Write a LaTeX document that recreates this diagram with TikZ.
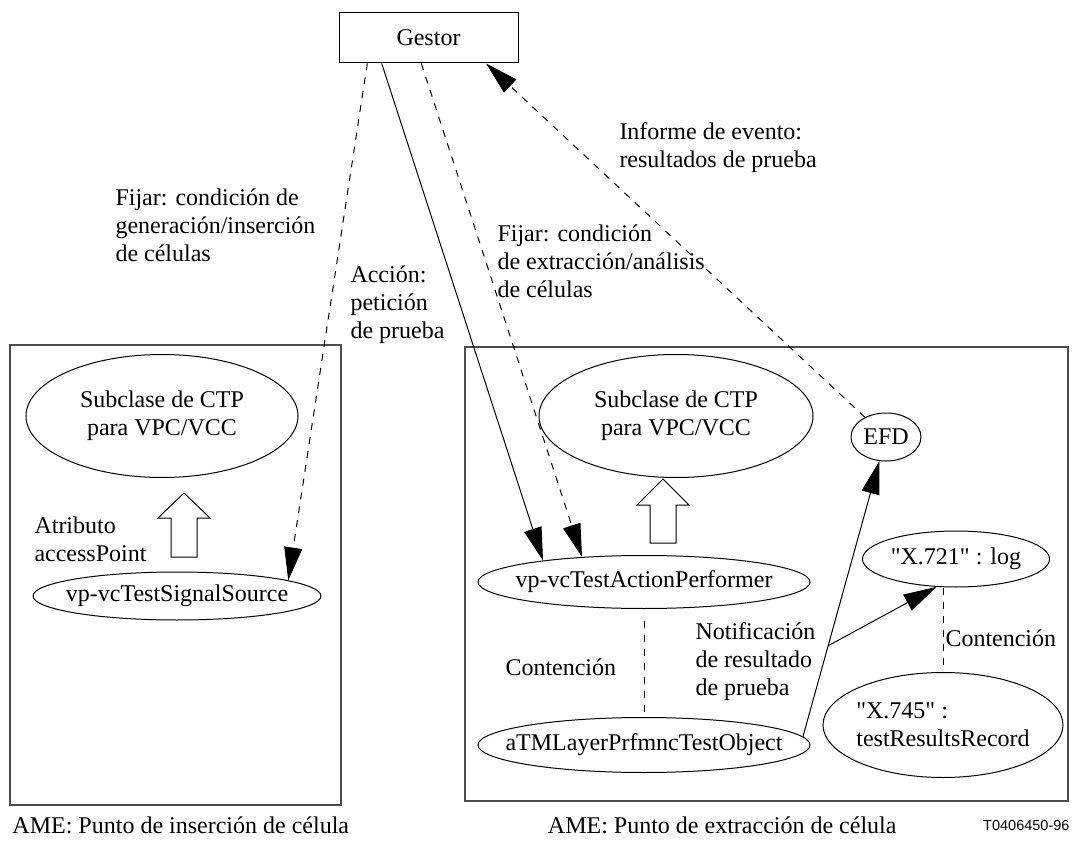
\documentclass[tikz,border=0pt]{standalone}
\usepackage{fontspec}
\setmainfont{Liberation Serif}
\setsansfont{Liberation Sans}
\usetikzlibrary{arrows.meta}
\usetikzlibrary{shapes.geometric}
\usetikzlibrary{calc}

\newcommand{\qt}{\XeTeXglyph\XeTeXcharglyph"22\relax}

\tikzset{
  ell/.style={draw, ellipse, inner sep=0pt},
  frame/.style={draw=black!70, line width=1.4pt},
  txt/.style={align=left, anchor=west, inner sep=0pt},
  dsh/.style={dash pattern=on 7pt off 7pt},
}

\begin{document}
\begin{tikzpicture}[x=1pt,y=-1pt,line width=1pt,font=\fontsize{24}{28}\selectfont,
    >={Triangle[length=33pt,width=18pt]}]
  \useasboundingbox (0,0) rectangle (1072,845);

  \node[draw, minimum width=179pt, minimum height=50pt] (gestor) at (428.5,38) {Gestor};

  % AME frames
  \draw[frame] (10,345) rectangle (341,805);
  \draw[frame] (465,347) rectangle (1068,801);

  % insertion point
  \node[ell, minimum width=272pt, minimum height=123pt,
    label={[align=center]center:{Subclase de CTP\\para VPC/VCC}}] (lsub) at (162,416) {};
  \node[ell, minimum width=288pt, minimum height=48pt,
    label={center:vp-vcTestSignalSource}] (src) at (177,596) {};
  \draw (184,493) -- ++(26,25) -- ++(-13,0) -- ++(0,39) -- ++(-26,0) -- ++(0,-39) -- ++(-13,0) -- cycle;

  % extraction point
  \node[ell, minimum width=274pt, minimum height=123pt,
    label={[align=center]center:{Subclase de CTP\\para VPC/VCC}}] (rsub) at (676,416) {};
  \node[ell, minimum width=332pt, minimum height=53pt,
    label={center:vp-vcTestActionPerformer}] (perf) at (644,582) {};
  \node[ell, minimum width=332pt, minimum height=55pt,
    label={center:aTMLayerPrfmncTestObject}] (atm) at (644,745) {};
  \node[ell, minimum width=70pt, minimum height=48pt,
    label={center:EFD}] (efd) at (886,437) {};
  \node[ell, minimum width=187pt, minimum height=56pt,
    label={center:\qt X.721\qt{} : log}] (log) at (956,559) {};
  \node[ell, minimum width=240pt, minimum height=105pt,
    label={[align=left]center:{\qt X.745\qt{} :\\testResultsRecord}}] (rec) at (943,725) {};
  \draw (663,479) -- ++(26,26) -- ++(-13,0) -- ++(0,38) -- ++(-26,0) -- ++(0,-38) -- ++(-13,0) -- cycle;

  % connectors
  \draw[->, dsh] ($(gestor.south west)!0.16!(gestor.south east)$) -- (src.8);
  \draw[->] ($(gestor.south west)!0.24!(gestor.south east)$) -- (perf.168);
  \draw[->, dsh] ($(gestor.south west)!0.46!(gestor.south east)$) -- (perf.158);
  \draw[->, dsh] (efd) -- ($(gestor.south west)!0.82!(gestor.south east)$);
  \draw[->] (atm.3) -- coordinate[pos=0.33] (nb) (efd);
  \draw[->] (nb) -- (log.235);
  \draw[dsh, shorten <=12pt] (perf) -- (atm);
  \draw[dsh, shorten >=6pt] (log.south -| rec.north) -- (rec.north);

  % labels
  \node[txt] (lfijar) at (115,225) {Fijar: condición de\\generación/inserción\\de células};
  \node[txt] (accion) at (350,305) {Acción:\\petición\\de prueba};
  \node[txt] (rfijar) at (497,261) {Fijar: condición\\de extracción/análisis\\de células};
  \node[txt] (informe) at (619,147.5) {Informe de evento:\\resultados de prueba};
  \node[txt] (atrib) at (34,539) {Atributo\\accessPoint};
  \node[txt] (lcont) at (505,667) {Contención};
  \node[txt] (notif) at (695,662) {Notificación\\de resultado\\de prueba};
  \node[txt] (rcont) at (945,638) {Contención};

  \node[txt] (lame) at (12,825) {AME: Punto de inserción de célula};
  \node[txt, anchor=east] (rame) at (897,825) {AME: Punto de extracción de célula};
  \node[txt, anchor=east, font=\sffamily\fontsize{14.5}{17}\selectfont] (ref) at (1070,826) {T0406450-96};
\end{tikzpicture}
\end{document}
